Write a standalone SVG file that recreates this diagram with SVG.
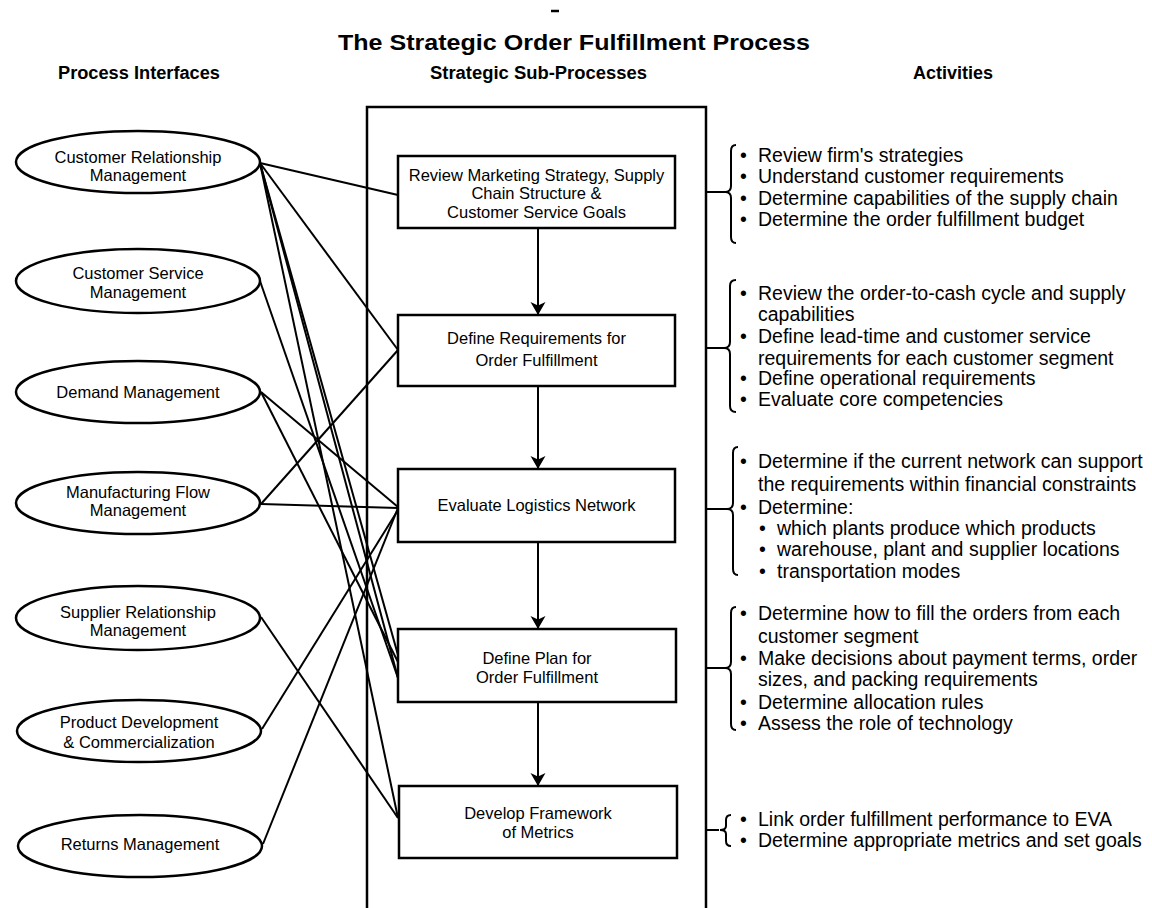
<svg xmlns="http://www.w3.org/2000/svg" width="1152" height="908" viewBox="0 0 1152 908">
  <style>
    .title { font-family: "Liberation Sans", Arial, sans-serif; font-weight: bold; font-size: 22px; fill: #000; }
    .head { font-family: "Liberation Sans", Arial, sans-serif; font-weight: bold; font-size: 18px; fill: #000; }
    .lbl { font-family: "Liberation Sans", Arial, sans-serif; font-size: 16.5px; fill: #000; text-anchor: middle; }
    .act { font-family: "Liberation Sans", Arial, sans-serif; font-size: 19.5px; fill: #000; }
    .shape { fill: #fff; stroke: #000; stroke-width: 2.5; }
    .frame { fill: none; stroke: #000; stroke-width: 2.5; }
    .link { fill: none; stroke: #000; stroke-width: 2; }
    .brace { fill: none; stroke: #000; stroke-width: 2; }
  </style>
  <defs>
    <marker id="arrow" markerUnits="userSpaceOnUse" markerWidth="16" markerHeight="16" refX="13" refY="7.5" orient="auto">
      <path d="M0,0 L13,7.5 L0,15 L3.5,7.5 z" fill="#000"/>
    </marker>
  </defs>

  <rect width="1152" height="908" fill="#fff"/>

  <!-- headings -->
  <g id="headings">
    <line x1="551" y1="11" x2="559" y2="11" stroke="#000" stroke-width="2.5"/>
    <text class="title" x="338" y="50" textLength="472" lengthAdjust="spacingAndGlyphs">The Strategic Order Fulfillment Process</text>
    <text class="head" x="58" y="79" textLength="162" lengthAdjust="spacingAndGlyphs">Process Interfaces</text>
    <text class="head" x="430" y="79" textLength="217" lengthAdjust="spacingAndGlyphs">Strategic Sub-Processes</text>
    <text class="head" x="913" y="79" textLength="80" lengthAdjust="spacingAndGlyphs">Activities</text>
  </g>

  <!-- sub-process frame, open at the bottom -->
  <g id="frame">
    <path class="frame" d="M367,912 V107 H706 V912"/>
  </g>

  <!-- interface links and flow arrows -->
  <g id="connectors">
    <line class="link" x1="260" y1="163" x2="398" y2="195"/>
    <line class="link" x1="260" y1="163" x2="398" y2="350"/>
    <line class="link" x1="260" y1="163" x2="398" y2="655"/>
    <line class="link" x1="260" y1="163" x2="398" y2="678"/>
    <line class="link" x1="260" y1="163" x2="398" y2="818"/>
    <line class="link" x1="260" y1="281" x2="398" y2="678"/>
    <line class="link" x1="261" y1="392" x2="398" y2="507"/>
    <line class="link" x1="261" y1="392" x2="398" y2="662"/>
    <line class="link" x1="261" y1="504" x2="398" y2="350"/>
    <line class="link" x1="261" y1="504" x2="398" y2="508"/>
    <line class="link" x1="261" y1="617" x2="398" y2="818"/>
    <line class="link" x1="262" y1="729" x2="398" y2="510"/>
    <line class="link" x1="263" y1="844" x2="398" y2="508"/>

    <line class="link" x1="538" y1="228" x2="538" y2="315" marker-end="url(#arrow)"/>
    <line class="link" x1="538" y1="386" x2="538" y2="469" marker-end="url(#arrow)"/>
    <line class="link" x1="538" y1="542" x2="538" y2="629" marker-end="url(#arrow)"/>
    <line class="link" x1="538" y1="702" x2="538" y2="786" marker-end="url(#arrow)"/>

    <!-- ties from the frame to the activity braces -->
    <line class="link" x1="706" y1="192" x2="725" y2="192"/>
    <line class="link" x1="706" y1="348" x2="724" y2="348"/>
    <line class="link" x1="706" y1="509" x2="727" y2="509"/>
    <line class="link" x1="706" y1="668" x2="725" y2="668"/>
    <line class="link" x1="706" y1="830" x2="719" y2="830"/>
  </g>

  <!-- process interfaces -->
  <g id="crm">
    <ellipse class="shape" cx="138" cy="162" rx="122" ry="31"/>
    <text class="lbl" x="138" y="162.5">Customer Relationship</text>
    <text class="lbl" x="138" y="181">Management</text>
  </g>
  <g id="csm">
    <ellipse class="shape" cx="138" cy="281" rx="122" ry="32"/>
    <text class="lbl" x="138" y="279">Customer Service</text>
    <text class="lbl" x="138" y="297.5">Management</text>
  </g>
  <g id="dm">
    <ellipse class="shape" cx="138" cy="392" rx="122" ry="31"/>
    <text class="lbl" x="138" y="397.5">Demand Management</text>
  </g>
  <g id="mfm">
    <ellipse class="shape" cx="138" cy="503" rx="122" ry="31"/>
    <text class="lbl" x="138" y="497.5">Manufacturing Flow</text>
    <text class="lbl" x="138" y="516">Management</text>
  </g>
  <g id="srm">
    <ellipse class="shape" cx="138" cy="618" rx="122" ry="32"/>
    <text class="lbl" x="138" y="618">Supplier Relationship</text>
    <text class="lbl" x="138" y="636">Management</text>
  </g>
  <g id="pdc">
    <ellipse class="shape" cx="139" cy="731" rx="122" ry="31"/>
    <text class="lbl" x="139" y="727.5">Product Development</text>
    <text class="lbl" x="139" y="747.5">&amp; Commercialization</text>
  </g>
  <g id="rm">
    <ellipse class="shape" cx="140" cy="846" rx="122" ry="31"/>
    <text class="lbl" x="140" y="850">Returns Management</text>
  </g>

  <!-- strategic sub-processes -->
  <g id="sp1">
    <rect class="shape" x="398" y="156" width="277" height="72"/>
    <text class="lbl" x="536.5" y="181">Review Marketing Strategy, Supply</text>
    <text class="lbl" x="536.5" y="199">Chain Structure &amp;</text>
    <text class="lbl" x="536.5" y="217.5">Customer Service Goals</text>
  </g>
  <g id="sp2">
    <rect class="shape" x="398" y="315" width="277" height="71"/>
    <text class="lbl" x="536.5" y="344">Define Requirements for</text>
    <text class="lbl" x="536.5" y="366">Order Fulfillment</text>
  </g>
  <g id="sp3">
    <rect class="shape" x="398" y="469" width="277" height="73"/>
    <text class="lbl" x="536.5" y="511">Evaluate Logistics Network</text>
  </g>
  <g id="sp4">
    <rect class="shape" x="398" y="629" width="278" height="73"/>
    <text class="lbl" x="537" y="664">Define Plan for</text>
    <text class="lbl" x="537" y="682.5">Order Fulfillment</text>
  </g>
  <g id="sp5">
    <rect class="shape" x="399" y="786" width="278" height="72"/>
    <text class="lbl" x="538" y="819">Develop Framework</text>
    <text class="lbl" x="538" y="837.5">of Metrics</text>
  </g>

  <!-- activities -->
  <g id="act1">
    <path class="brace" d="M736,145 Q731,145 731,151 V186 Q731,192 725,192 Q731,192 731,198 V237 Q731,243 736,243"/>
    <text class="act" x="740" y="162">•</text><text class="act" x="758" y="162">Review firm's strategies</text>
    <text class="act" x="740" y="183">•</text><text class="act" x="758" y="183">Understand customer requirements</text>
    <text class="act" x="740" y="205">•</text><text class="act" x="758" y="205">Determine capabilities of the supply chain</text>
    <text class="act" x="740" y="226">•</text><text class="act" x="758" y="226">Determine the order fulfillment budget</text>
  </g>
  <g id="act2">
    <path class="brace" d="M736,280 Q730,280 730,286 V342 Q730,348 724,348 Q730,348 730,354 V406 Q730,412 736,412"/>
    <text class="act" x="740" y="300">•</text><text class="act" x="758" y="300">Review the order-to-cash cycle and supply</text>
    <text class="act" x="758" y="321">capabilities</text>
    <text class="act" x="740" y="343">•</text><text class="act" x="758" y="343">Define lead-time and customer service</text>
    <text class="act" x="758" y="365">requirements for each customer segment</text>
    <text class="act" x="740" y="385">•</text><text class="act" x="758" y="385">Define operational requirements</text>
    <text class="act" x="740" y="406">•</text><text class="act" x="758" y="406">Evaluate core competencies</text>
  </g>
  <g id="act3">
    <path class="brace" d="M738,447 Q733,447 733,453 V503 Q733,509 727,509 Q733,509 733,515 V569 Q733,575 738,575"/>
    <text class="act" x="740" y="468">•</text><text class="act" x="758" y="468">Determine if the current network can support</text>
    <text class="act" x="758" y="491">the requirements within financial constraints</text>
    <text class="act" x="740" y="514">•</text><text class="act" x="758" y="514">Determine:</text>
    <text class="act" x="759" y="535">•</text><text class="act" x="777" y="535">which plants produce which products</text>
    <text class="act" x="759" y="556">•</text><text class="act" x="777" y="556">warehouse, plant and supplier locations</text>
    <text class="act" x="759" y="578">•</text><text class="act" x="777" y="578">transportation modes</text>
  </g>
  <g id="act4">
    <path class="brace" d="M736,607 Q731,607 731,613 V662 Q731,668 725,668 Q731,668 731,674 V724 Q731,730 736,730"/>
    <text class="act" x="740" y="620">•</text><text class="act" x="758" y="620">Determine how to fill the orders from each</text>
    <text class="act" x="758" y="643">customer segment</text>
    <text class="act" x="740" y="665">•</text><text class="act" x="758" y="665">Make decisions about payment terms, order</text>
    <text class="act" x="758" y="686">sizes, and packing requirements</text>
    <text class="act" x="740" y="709">•</text><text class="act" x="758" y="709">Determine allocation rules</text>
    <text class="act" x="740" y="730">•</text><text class="act" x="758" y="730">Assess the role of technology</text>
  </g>
  <g id="act5">
    <path class="brace" d="M731,815 Q726,815 726,820 V826 Q726,830 720,830 Q726,830 726,834 V841 Q726,846 731,846"/>
    <text class="act" x="740" y="826">•</text><text class="act" x="758" y="826">Link order fulfillment performance to EVA</text>
    <text class="act" x="740" y="847">•</text><text class="act" x="758" y="847">Determine appropriate metrics and set goals</text>
  </g>
</svg>
